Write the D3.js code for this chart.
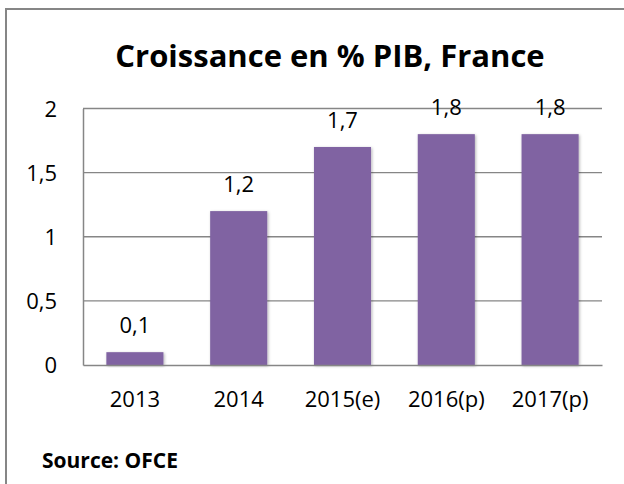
<!DOCTYPE html>
<html>
<head>
<meta charset="utf-8">
<script src="https://cdn.jsdelivr.net/npm/d3@7/dist/d3.min.js"></script>
<style>
  html, body { margin: 0; padding: 0; background: #fff; }
  svg { display: block; }
  text { font-family: "Open Sans", sans-serif; fill: #000; }
</style>
</head>
<body>
<div id="chart"></div>
<script>
const width = 624;
const height = 484;

const categories = ["2013", "2014", "2015(e)", "2016(p)", "2017(p)"];
const values = [0.1, 1.2, 1.7, 1.8, 1.8];
const yTicks = [0, 0.5, 1, 1.5, 2];
const yTickLabels = ["0", "0,5", "1", "1,5", "2"];
const valueLabels = ["0,1", "1,2", "1,7", "1,8", "1,8"];

const svg = d3.select("#chart")
  .append("svg")
  .attr("width", width)
  .attr("height", height);

// soft shadow under the bars, like the office chart
const defs = svg.append("defs");
const shadow = defs.append("filter")
  .attr("id", "barShadow")
  .attr("x", "-20%").attr("y", "-20%")
  .attr("width", "140%").attr("height", "140%");
shadow.append("feDropShadow")
  .attr("dx", 1).attr("dy", 1)
  .attr("stdDeviation", 1.5)
  .attr("flood-color", "#000")
  .attr("flood-opacity", 0.3);

// outer frame, cut off at right and bottom
svg.append("path")
  .attr("d", `M6,${height + 5} V9 H${width + 5}`)
  .attr("fill", "none")
  .attr("stroke", "#868686")
  .attr("stroke-width", 2);

const x = d3.scaleBand()
  .domain(categories)
  .range([83, 602])
  .paddingInner(0.45)
  .paddingOuter(0.225);

const y = d3.scaleLinear()
  .domain([0, 2])
  .range([365, 108.5]);

// gridlines
svg.append("g")
  .selectAll("line")
  .data(yTicks.filter(d => d > 0))
  .join("line")
  .attr("x1", 83)
  .attr("x2", 602)
  .attr("y1", d => y(d))
  .attr("y2", d => y(d))
  .attr("stroke", "#868686")
  .attr("stroke-width", 1.3);

// y axis
const yAxis = svg.append("g")
  .attr("transform", "translate(83,0)")
  .call(d3.axisLeft(y).tickValues(yTicks).tickSize(0).tickPadding(26)
    .tickFormat((d, i) => yTickLabels[i]));
yAxis.select(".domain").attr("stroke", "#868686").attr("stroke-width", 1.5);
yAxis.selectAll("text")
  .style("font-family", "'Open Sans', sans-serif")
  .style("font-size", "22px")
  .attr("dy", "0.35em");

// bars
svg.append("g")
  .selectAll("rect")
  .data(values)
  .join("rect")
  .attr("x", (d, i) => x(categories[i]))
  .attr("width", x.bandwidth())
  .attr("y", d => y(d))
  .attr("height", d => y(0) - y(d))
  .attr("fill", "#8064a2")
  .attr("filter", "url(#barShadow)");

// x axis
const xAxis = svg.append("g")
  .attr("transform", `translate(0,${y(0)})`)
  .call(d3.axisBottom(x).tickSize(0).tickPadding(26));
xAxis.select(".domain").attr("stroke", "#868686").attr("stroke-width", 1.5);
xAxis.selectAll("text")
  .style("font-family", "'Open Sans', sans-serif")
  .style("font-size", "22px");

// value labels
svg.append("g")
  .selectAll("text")
  .data(values)
  .join("text")
  .attr("x", (d, i) => x(categories[i]) + x.bandwidth() / 2)
  .attr("y", d => y(d) - 19)
  .attr("text-anchor", "middle")
  .style("font-size", "22px")
  .text((d, i) => valueLabels[i]);

// title
svg.append("text")
  .attr("x", 330)
  .attr("y", 67)
  .attr("text-anchor", "middle")
  .style("font-size", "31px")
  .style("font-weight", "bold")
  .text("Croissance en % PIB, France");

svg.append("text")
  .attr("x", 42)
  .attr("y", 468)
  .style("font-size", "21px")
  .style("font-weight", "bold")
  .text("Source: OFCE");
</script>
</body>
</html>
